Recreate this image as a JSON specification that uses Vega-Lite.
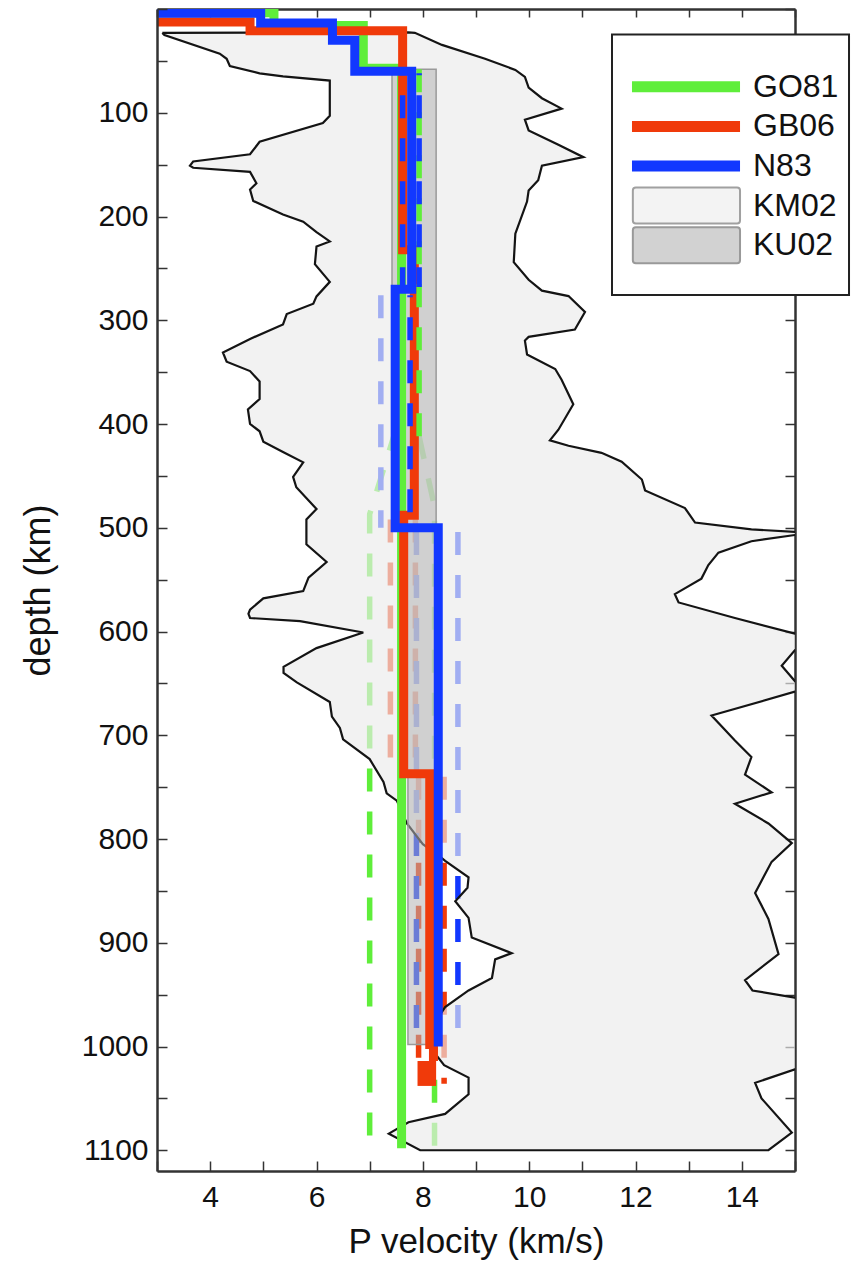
{
  "$schema": "https://vega.github.io/schema/vega-lite/v6.json",
  "width": 638,
  "height": 1162,
  "autosize": {"type": "none"},
  "padding": {"left": 157, "top": 9, "right": 67, "bottom": 95},
  "background": "white",
  "config": {
    "view": {"stroke": null},
    "axis": {"grid": false, "labelFont": "Liberation Sans", "titleFont": "Liberation Sans", "domainColor": "#333", "domainWidth": 2.5, "tickColor": "#333", "tickWidth": 1.5, "labelColor": "#111", "titleColor": "#111", "titleFontWeight": "normal", "labelOverlap": false, "labelFlush": false, "labelBound": false}
  },
  "datasets": {
    "env": [
      {"i":1,"v":3.10,"d":23},{"i":2,"v":3.14,"d":25},{"i":3,"v":4.18,"d":43},{"i":4,"v":4.31,"d":48},{"i":5,"v":4.37,"d":55},{"i":6,"v":4.93,"d":62},{"i":7,"v":5.37,"d":65},{"i":8,"v":6.25,"d":69},{"i":9,"v":6.25,"d":103},{"i":10,"v":6.12,"d":110},
      {"i":11,"v":4.93,"d":128},{"i":12,"v":4.75,"d":140},{"i":13,"v":3.68,"d":147},{"i":14,"v":3.62,"d":151},{"i":15,"v":3.68,"d":153},{"i":16,"v":4.75,"d":157},{"i":17,"v":4.87,"d":168},{"i":18,"v":4.75,"d":174},{"i":19,"v":4.81,"d":185},{"i":20,"v":5.37,"d":198},
      {"i":21,"v":5.75,"d":205},{"i":22,"v":6.0,"d":215},{"i":23,"v":6.25,"d":224},{"i":24,"v":6.0,"d":229},{"i":25,"v":5.97,"d":246},{"i":26,"v":6.25,"d":263},{"i":27,"v":6.0,"d":277},{"i":28,"v":5.94,"d":284},{"i":29,"v":5.44,"d":294},{"i":30,"v":5.37,"d":304},
      {"i":31,"v":4.75,"d":318},{"i":32,"v":4.24,"d":331},{"i":33,"v":4.31,"d":340},{"i":34,"v":4.75,"d":349},{"i":35,"v":4.93,"d":359},{"i":36,"v":4.93,"d":376},{"i":37,"v":4.71,"d":386},{"i":38,"v":4.75,"d":400},{"i":39,"v":4.93,"d":407},{"i":40,"v":5.0,"d":417},
      {"i":41,"v":5.37,"d":427},{"i":42,"v":5.75,"d":437},{"i":43,"v":5.56,"d":451},{"i":44,"v":5.62,"d":461},{"i":45,"v":6.0,"d":482},{"i":46,"v":5.81,"d":492},{"i":47,"v":5.81,"d":516},{"i":48,"v":6.19,"d":533},{"i":49,"v":5.85,"d":548},{"i":50,"v":5.75,"d":561},
      {"i":51,"v":5.0,"d":568},{"i":52,"v":4.75,"d":579},{"i":53,"v":4.72,"d":583},{"i":54,"v":4.75,"d":587},{"i":55,"v":5.69,"d":590},{"i":56,"v":6.88,"d":601},{"i":57,"v":6.0,"d":616},{"i":58,"v":5.38,"d":634},{"i":59,"v":5.38,"d":640},{"i":60,"v":5.63,"d":649},
      {"i":61,"v":6.25,"d":668},{"i":62,"v":6.29,"d":682},{"i":63,"v":6.44,"d":693},{"i":64,"v":6.5,"d":704},{"i":65,"v":7.0,"d":723},{"i":66,"v":7.26,"d":745},{"i":67,"v":7.32,"d":756},{"i":68,"v":7.51,"d":763},{"i":69,"v":7.7,"d":785},{"i":70,"v":8.0,"d":805},
      {"i":71,"v":8.3,"d":816},{"i":72,"v":8.42,"d":821},{"i":73,"v":8.86,"d":837},{"i":74,"v":8.84,"d":847},{"i":75,"v":8.61,"d":860},{"i":76,"v":8.86,"d":876},{"i":77,"v":8.92,"d":895},{"i":78,"v":9.67,"d":910},{"i":79,"v":9.36,"d":916},{"i":80,"v":9.30,"d":934},
      {"i":81,"v":8.86,"d":946},{"i":82,"v":8.42,"d":962},{"i":83,"v":8.25,"d":975},{"i":84,"v":8.25,"d":1008},{"i":85,"v":8.4,"d":1018},{"i":86,"v":8.86,"d":1030},{"i":87,"v":8.86,"d":1046},{"i":88,"v":8.42,"d":1065},{"i":89,"v":7.73,"d":1073},{"i":90,"v":7.36,"d":1084},
      {"i":91,"v":7.95,"d":1100},{"i":92,"v":14.5,"d":1100},{"i":93,"v":14.94,"d":1083},{"i":94,"v":14.37,"d":1050},{"i":95,"v":14.25,"d":1035},{"i":96,"v":15.0,"d":1022},{"i":97,"v":15.4,"d":1015},{"i":98,"v":15.4,"d":960},{"i":99,"v":15.0,"d":953},{"i":100,"v":14.2,"d":946},
      {"i":101,"v":14.06,"d":936},{"i":102,"v":14.69,"d":911},{"i":103,"v":14.5,"d":877},{"i":104,"v":14.25,"d":852},{"i":105,"v":14.56,"d":822},{"i":106,"v":14.94,"d":804},{"i":107,"v":14.5,"d":785},{"i":108,"v":13.87,"d":766},{"i":109,"v":14.56,"d":755},{"i":110,"v":14.06,"d":738},
      {"i":111,"v":14.18,"d":721},{"i":112,"v":13.87,"d":705},{"i":113,"v":13.43,"d":681},{"i":114,"v":15.0,"d":658},{"i":115,"v":15.3,"d":653},{"i":116,"v":15.0,"d":648},{"i":117,"v":14.75,"d":633},{"i":118,"v":15.0,"d":618},{"i":119,"v":15.3,"d":610},{"i":120,"v":15.0,"d":602},
      {"i":121,"v":13.87,"d":587},{"i":122,"v":12.81,"d":572},{"i":123,"v":12.74,"d":564},{"i":124,"v":13.24,"d":549},{"i":125,"v":13.37,"d":536},{"i":126,"v":13.56,"d":524},{"i":127,"v":14.18,"d":513},{"i":128,"v":15.0,"d":507},{"i":129,"v":15.6,"d":505.5},{"i":130,"v":15.0,"d":504},
      {"i":131,"v":14.18,"d":501.6},{"i":132,"v":13.12,"d":495},{"i":133,"v":12.93,"d":481},{"i":134,"v":12.18,"d":464},{"i":135,"v":12.12,"d":453.5},{"i":136,"v":11.74,"d":436.4},{"i":137,"v":11.36,"d":427.8},{"i":138,"v":10.74,"d":421},{"i":139,"v":10.39,"d":415.8},{"i":140,"v":10.55,"d":405.5},
      {"i":141,"v":10.83,"d":381},{"i":142,"v":10.61,"d":357.4},{"i":143,"v":10.49,"d":347},{"i":144,"v":9.96,"d":333},{"i":145,"v":9.92,"d":319.6},{"i":146,"v":9.99,"d":316},{"i":147,"v":10.86,"d":309},{"i":148,"v":11.05,"d":292},{"i":149,"v":10.74,"d":276.7},{"i":150,"v":10.24,"d":271.5},
      {"i":151,"v":9.99,"d":261},{"i":152,"v":9.71,"d":244},{"i":153,"v":9.74,"d":216.6},{"i":154,"v":9.96,"d":185.6},{"i":155,"v":9.99,"d":175},{"i":156,"v":10.17,"d":165},{"i":157,"v":10.24,"d":151},{"i":158,"v":11.02,"d":142.8},{"i":159,"v":10.55,"d":130.8},{"i":160,"v":9.99,"d":117},
      {"i":161,"v":9.92,"d":106.7},{"i":162,"v":10.61,"d":96},{"i":163,"v":10.24,"d":86},{"i":164,"v":9.99,"d":75.8},{"i":165,"v":9.92,"d":65.5},{"i":166,"v":9.74,"d":58.7},{"i":167,"v":9.17,"d":48},{"i":168,"v":8.36,"d":34.6},{"i":169,"v":7.85,"d":23},{"i":170,"v":7.73,"d":22.6},
      {"i":171,"v":3.10,"d":23}
    ],
    "ku": [
      {"v1":7.42,"v2":8.25,"d1":58,"d2":500},
      {"v1":7.62,"v2":8.28,"d1":500,"d2":737},
      {"v1":7.72,"v2":8.1,"d1":737,"d2":998}
    ],
    "solid": [
      {"model":"GO81","i":1,"v":2.5,"d":3.5},{"model":"GO81","i":2,"v":5.2,"d":3.5},{"model":"GO81","i":3,"v":5.2,"d":16},{"model":"GO81","i":4,"v":6.88,"d":16},{"model":"GO81","i":5,"v":6.88,"d":57},{"model":"GO81","i":6,"v":7.6,"d":57},{"model":"GO81","i":7,"v":7.6,"d":1098},
      {"model":"GB06","i":1,"v":2.5,"d":12.5},{"model":"GB06","i":2,"v":4.75,"d":12.5},{"model":"GB06","i":3,"v":4.75,"d":21},{"model":"GB06","i":4,"v":7.62,"d":21},{"model":"GB06","i":5,"v":7.62,"d":232},{"model":"GB06","i":6,"v":7.84,"d":232},{"model":"GB06","i":7,"v":7.84,"d":488},{"model":"GB06","i":8,"v":7.64,"d":488},{"model":"GB06","i":9,"v":7.64,"d":737},{"model":"GB06","i":10,"v":8.13,"d":737},{"model":"GB06","i":11,"v":8.13,"d":998},{"model":"GB06","i":12,"v":8.2,"d":998},{"model":"GB06","i":13,"v":8.2,"d":1014},
      {"model":"N83","i":1,"v":2.5,"d":4},{"model":"N83","i":2,"v":4.95,"d":4},{"model":"N83","i":3,"v":4.95,"d":13.5},{"model":"N83","i":4,"v":6.3,"d":13.5},{"model":"N83","i":5,"v":6.3,"d":30},{"model":"N83","i":6,"v":6.72,"d":30},{"model":"N83","i":7,"v":6.72,"d":60},{"model":"N83","i":8,"v":7.79,"d":60},{"model":"N83","i":9,"v":7.79,"d":270},{"model":"N83","i":10,"v":7.48,"d":270},{"model":"N83","i":11,"v":7.48,"d":500},{"model":"N83","i":12,"v":8.29,"d":500},{"model":"N83","i":13,"v":8.29,"d":1000}
    ],
    "blob": [
      {"model":"GB06","v1":7.9,"v2":8.25,"d1":1014,"d2":1038}
    ],
    "dash": [
      {"model":"GO81","seg":"g1","i":1,"v":7.5,"d":280},{"model":"GO81","seg":"g1","i":2,"v":7.5,"d":404},{"model":"GO81","seg":"g1","i":3,"v":7.0,"d":487},{"model":"GO81","seg":"g1","i":4,"v":7.0,"d":1098},
      {"model":"GO81","seg":"g2","i":1,"v":7.93,"d":412},{"model":"GO81","seg":"g2","i":2,"v":8.22,"d":480},{"model":"GO81","seg":"g2","i":3,"v":8.22,"d":1098},
      {"model":"GB06","seg":"r1","i":1,"v":7.39,"d":492},{"model":"GB06","seg":"r1","i":2,"v":7.39,"d":737},
      {"model":"GB06","seg":"r2","i":1,"v":7.86,"d":492},{"model":"GB06","seg":"r2","i":2,"v":7.86,"d":737},
      {"model":"GB06","seg":"r3","i":1,"v":7.92,"d":740},{"model":"GB06","seg":"r3","i":2,"v":7.92,"d":1012},
      {"model":"GB06","seg":"r4","i":1,"v":8.4,"d":740},{"model":"GB06","seg":"r4","i":2,"v":8.4,"d":1036},
      {"model":"N83","seg":"b1","i":1,"v":7.21,"d":276},{"model":"N83","seg":"b1","i":2,"v":7.21,"d":500},
      {"model":"N83","seg":"b2","i":1,"v":7.88,"d":504},{"model":"N83","seg":"b2","i":2,"v":7.88,"d":1000},
      {"model":"N83","seg":"b3","i":1,"v":8.66,"d":504},{"model":"N83","seg":"b3","i":2,"v":8.66,"d":1000}
    ],
    "dashTop": [
      {"model":"GO81","seg":"g3","i":1,"v":7.93,"d":58},{"model":"GO81","seg":"g3","i":2,"v":7.93,"d":412},
      {"model":"N83","seg":"b4","i":1,"v":7.62,"d":62},{"model":"N83","seg":"b4","i":2,"v":7.62,"d":268},
      {"model":"N83","seg":"b5","i":1,"v":7.93,"d":62},{"model":"N83","seg":"b5","i":2,"v":7.93,"d":268},
      {"model":"N83","seg":"b6","i":1,"v":7.76,"d":276},{"model":"N83","seg":"b6","i":2,"v":7.76,"d":498}
    ],
    "legend": [
      {"model":"GO81"},{"model":"GB06"},{"model":"N83"},{"model":"KM02"},{"model":"KU02"}
    ]
  },
  "layer": [
    {
      "layer": [
        {
          "data": {"name": "dash"},
          "mark": {"type": "line", "strokeWidth": 5.5, "strokeDash": [23, 20], "clip": true},
          "encoding": {
            "x": {"field": "v", "type": "quantitative", "scale": {"domain": [3, 15], "nice": false, "zero": false},
              "axis": {"orient": "bottom", "values": [3,4,5,6,7,8,9,10,11,12,13,14,15], "format": "d", "labelExpr": "datum.value % 2 == 0 ? datum.label : ''", "tickSize": -10, "labelPadding": 21, "labelFontSize": 30, "title": "P velocity (km/s)", "titleFontSize": 35, "titlePadding": 12, "zindex": 1}},
            "y": {"field": "d", "type": "quantitative", "scale": {"domain": [0, 1120], "reverse": true, "nice": false, "zero": false},
              "axis": {"orient": "left", "values": [0,50,100,150,200,250,300,350,400,450,500,550,600,650,700,750,800,850,900,950,1000,1050,1100], "format": "d", "labelExpr": "datum.value % 100 == 0 && datum.value > 0 ? datum.label : ''", "tickSize": -10, "labelPadding": 19, "labelFontSize": 30, "title": "depth (km)", "titleFontSize": 36, "titlePadding": 24, "zindex": 1}},
            "color": {"field": "model", "type": "nominal", "scale": {"domain": ["GO81", "GB06", "N83"], "range": ["#5fee3a", "#f03a0a", "#1238ff"]}, "legend": null},
            "detail": {"field": "seg"},
            "order": {"field": "i", "type": "quantitative"}
          }
        },
        {
          "data": {"name": "env"},
          "mark": {"type": "line", "fill": "#ececec", "fillOpacity": 0.66, "stroke": "#141414", "strokeWidth": 2.2, "clip": true},
          "encoding": {
            "x": {"field": "v", "type": "quantitative", "scale": {"domain": [3, 15], "nice": false, "zero": false}, "axis": null},
            "y": {"field": "d", "type": "quantitative", "scale": {"domain": [0, 1120], "reverse": true, "nice": false, "zero": false}, "axis": null},
            "order": {"field": "i", "type": "quantitative"}
          }
        },
        {
          "data": {"name": "ku"},
          "mark": {"type": "rect", "fill": "#b4b4b4", "fillOpacity": 0.55, "stroke": "#9a9a9a", "strokeWidth": 1.5, "clip": true},
          "encoding": {
            "x": {"field": "v1", "type": "quantitative", "scale": {"domain": [3, 15], "nice": false, "zero": false},
              "axis": {"orient": "top", "values": [3,4,5,6,7,8,9,10,11,12,13,14,15], "labels": false, "tickSize": -8, "title": null, "zindex": 0}},
            "x2": {"field": "v2"},
            "y": {"field": "d1", "type": "quantitative", "scale": {"domain": [0, 1120], "reverse": true, "nice": false, "zero": false},
              "axis": {"orient": "right", "values": [0,50,100,150,200,250,300,350,400,450,500,550,600,650,700,750,800,850,900,950,1000,1050,1100], "labels": false, "tickSize": -10, "title": null, "zindex": 0}},
            "y2": {"field": "d2"}
          }
        },
        {
          "data": {"name": "solid"},
          "transform": [{"filter": "datum.model == 'GO81'"}],
          "mark": {"type": "line", "strokeWidth": 9, "color": "#5fee3a", "clip": true, "strokeCap": "butt", "strokeJoin": "miter"},
          "encoding": {
            "x": {"field": "v", "type": "quantitative", "scale": {"domain": [3, 15], "nice": false, "zero": false}, "axis": null},
            "y": {"field": "d", "type": "quantitative", "scale": {"domain": [0, 1120], "reverse": true, "nice": false, "zero": false}, "axis": null},
            "order": {"field": "i", "type": "quantitative"}
          }
        },
        {
          "data": {"name": "solid"},
          "transform": [{"filter": "datum.model == 'GB06'"}],
          "mark": {"type": "line", "strokeWidth": 9, "color": "#f03a0a", "clip": true, "strokeCap": "butt", "strokeJoin": "miter"},
          "encoding": {
            "x": {"field": "v", "type": "quantitative", "scale": {"domain": [3, 15], "nice": false, "zero": false}, "axis": null},
            "y": {"field": "d", "type": "quantitative", "scale": {"domain": [0, 1120], "reverse": true, "nice": false, "zero": false}, "axis": null},
            "order": {"field": "i", "type": "quantitative"}
          }
        },
        {
          "data": {"name": "blob"},
          "mark": {"type": "rect", "fill": "#f03a0a", "clip": true},
          "encoding": {
            "x": {"field": "v1", "type": "quantitative", "scale": {"domain": [3, 15], "nice": false, "zero": false}, "axis": null},
            "x2": {"field": "v2"},
            "y": {"field": "d1", "type": "quantitative", "scale": {"domain": [0, 1120], "reverse": true, "nice": false, "zero": false}, "axis": null},
            "y2": {"field": "d2"}
          }
        },
        {
          "data": {"name": "dashTop"},
          "transform": [{"filter": "datum.model == 'GO81'"}],
          "mark": {"type": "line", "strokeWidth": 5.5, "strokeDash": [23, 20], "color": "#5fee3a", "clip": true},
          "encoding": {
            "x": {"field": "v", "type": "quantitative", "scale": {"domain": [3, 15], "nice": false, "zero": false}, "axis": null},
            "y": {"field": "d", "type": "quantitative", "scale": {"domain": [0, 1120], "reverse": true, "nice": false, "zero": false}, "axis": null},
            "detail": {"field": "seg"},
            "order": {"field": "i", "type": "quantitative"}
          }
        },
        {
          "data": {"name": "dashTop"},
          "transform": [{"filter": "datum.model == 'N83'"}],
          "mark": {"type": "line", "strokeWidth": 5.5, "strokeDash": [23, 20], "strokeDashOffset": 21, "color": "#1238ff", "clip": true},
          "encoding": {
            "x": {"field": "v", "type": "quantitative", "scale": {"domain": [3, 15], "nice": false, "zero": false}, "axis": null},
            "y": {"field": "d", "type": "quantitative", "scale": {"domain": [0, 1120], "reverse": true, "nice": false, "zero": false}, "axis": null},
            "detail": {"field": "seg"},
            "order": {"field": "i", "type": "quantitative"}
          }
        },
        {
          "data": {"name": "solid"},
          "transform": [{"filter": "datum.model == 'N83'"}],
          "mark": {"type": "line", "strokeWidth": 9, "color": "#1238ff", "clip": true, "strokeCap": "butt", "strokeJoin": "miter"},
          "encoding": {
            "x": {"field": "v", "type": "quantitative", "scale": {"domain": [3, 15], "nice": false, "zero": false}, "axis": null},
            "y": {"field": "d", "type": "quantitative", "scale": {"domain": [0, 1120], "reverse": true, "nice": false, "zero": false}, "axis": null},
            "order": {"field": "i", "type": "quantitative"}
          }
        },
        {
          "data": {"values": [{}]},
          "mark": {"type": "rect", "fill": "white", "stroke": "#222", "strokeWidth": 2, "clip": false},
          "encoding": {
            "x": {"datum": 11.558, "type": "quantitative", "scale": {"domain": [3, 15], "nice": false, "zero": false}, "axis": null},
            "x2": {"datum": 16.016},
            "y": {"datum": 24.5, "type": "quantitative", "scale": {"domain": [0, 1120], "reverse": true, "nice": false, "zero": false}, "axis": null},
            "y2": {"datum": 275.66}
          }
        }
      ],
      "resolve": {"axis": {"x": "independent", "y": "independent"}}
    },
    {
      "data": {"name": "legend"},
      "layer": [
        {
          "transform": [{"filter": "datum.model == 'GO81' || datum.model == 'GB06' || datum.model == 'N83'"}],
          "mark": {"type": "rule", "strokeWidth": 11, "strokeCap": "butt", "clip": false},
          "encoding": {
            "x": {"datum": 11.934, "type": "quantitative", "scale": {"domain": [3, 15], "nice": false, "zero": false}, "axis": null},
            "x2": {"datum": 13.966},
            "y": {"field": "model", "type": "nominal", "scale": {"type": "point", "domain": ["GO81", "GB06", "N83", "KM02", "KU02"], "range": [58, 256]}, "axis": null},
            "color": {"field": "model", "type": "nominal", "scale": {"domain": ["GO81", "GB06", "N83"], "range": ["#5fee3a", "#f03a0a", "#1238ff"]}, "legend": null}
          }
        },
        {
          "transform": [{"filter": "datum.model == 'KM02'"}],
          "mark": {"type": "bar", "height": 36, "fill": "#f3f3f3", "stroke": "#a0a0a0", "strokeWidth": 2, "cornerRadius": 3, "clip": false},
          "encoding": {
            "x": {"datum": 11.95, "type": "quantitative", "scale": {"domain": [3, 15], "nice": false, "zero": false}, "axis": null},
            "x2": {"datum": 13.966},
            "y": {"field": "model", "type": "nominal", "scale": {"type": "point", "domain": ["GO81", "GB06", "N83", "KM02", "KU02"], "range": [58, 256]}, "axis": null}
          }
        },
        {
          "transform": [{"filter": "datum.model == 'KU02'"}],
          "mark": {"type": "bar", "height": 36, "fill": "#d2d2d2", "stroke": "#999999", "strokeWidth": 2, "cornerRadius": 3, "clip": false},
          "encoding": {
            "x": {"datum": 11.95, "type": "quantitative", "scale": {"domain": [3, 15], "nice": false, "zero": false}, "axis": null},
            "x2": {"datum": 13.966},
            "y": {"field": "model", "type": "nominal", "scale": {"type": "point", "domain": ["GO81", "GB06", "N83", "KM02", "KU02"], "range": [58, 256]}, "axis": null}
          }
        },
        {
          "mark": {"type": "text", "align": "left", "baseline": "middle", "fontSize": 32, "font": "Liberation Sans", "color": "#111", "clip": false},
          "encoding": {
            "x": {"datum": 14.21, "type": "quantitative", "scale": {"domain": [3, 15], "nice": false, "zero": false}, "axis": null},
            "y": {"field": "model", "type": "nominal", "scale": {"type": "point", "domain": ["GO81", "GB06", "N83", "KM02", "KU02"], "range": [58, 256]}, "axis": null},
            "text": {"field": "model"}
          }
        }
      ]
    }
  ],
  "resolve": {"scale": {"y": "independent"}, "axis": {"x": "independent", "y": "independent"}}
}
